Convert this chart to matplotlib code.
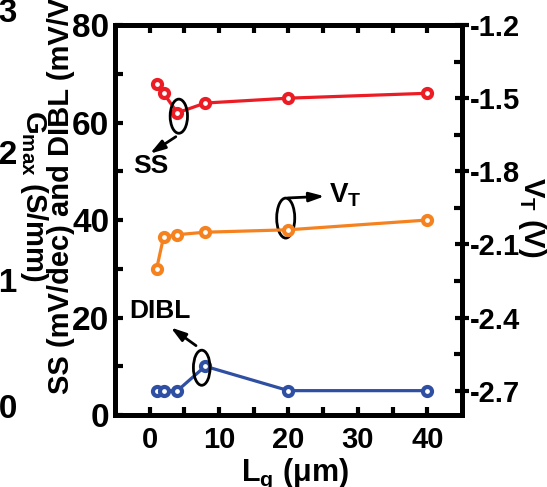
import matplotlib
matplotlib.use('Agg')
import matplotlib.pyplot as plt
from matplotlib import font_manager
from matplotlib.patches import Ellipse

# data
lg = [1, 2, 4, 8, 20, 40]                       # gate length (um)
ss = [68, 66, 62, 64, 65, 66]                   # SS (mV/dec)
dibl = [5, 5, 5, 10, 5, 5]                      # DIBL (mV/V)
vt = [-2.20, -2.07, -2.06, -2.05, -2.04, -2.00]  # V_T (V)

xticks = [0, 10, 20, 30, 40]
yticks_left = [0, 20, 40, 60, 80]
yticks_right = [-2.7, -2.4, -2.1, -1.8, -1.5, -1.2]
yticklabels_right = ['-2.7', '-2.4', '-2.1', '-1.8', '-1.5', '-1.2']
cut_labels = ['1.3', '1.2', '1.1', '1.0']   # tick labels of a neighbour panel, cut off

names = {f.name for f in font_manager.fontManager.ttflist}
fam = ['Liberation Sans Narrow'] if 'Liberation Sans Narrow' in names else []
plt.rcParams['font.family'] = fam + ['Liberation Sans', 'DejaVu Sans']
plt.rcParams['font.weight'] = 'bold'
plt.rcParams['mathtext.fontset'] = 'custom'
plt.rcParams['mathtext.rm'] = (fam + ['Liberation Sans'])[0] + ':bold'
plt.rcParams['mathtext.it'] = (fam + ['Liberation Sans'])[0] + ':bold'
plt.rcParams['mathtext.default'] = 'rm'

red = '#ec1c24'
orange = '#f5821f'
blue = '#2f4fa2'

fig = plt.figure(figsize=(5.47, 4.87), dpi=100)
ax = fig.add_axes([0.2102, 0.1478, 0.6344, 0.8008])
ax2 = ax.twinx()

mk = dict(marker='o', markersize=6.5, markeredgewidth=3, markerfacecolor='white', lw=2.3)
ax.plot(lg, ss, color=red, markeredgecolor=red, **mk)
ax.plot(lg, dibl, color=blue, markeredgecolor=blue, **mk)
ax2.plot(lg, vt, color=orange, markeredgecolor=orange, **mk)

ax.set_xlim(-5, 45)
ax.set_ylim(0, 80)
ax2.set_ylim(-2.8, -1.2)

ax.set_xticks(xticks)
ax.set_xticks([5, 15, 25, 35], minor=True)
ax.set_yticks(yticks_left)
ax.set_yticks([10, 30, 50, 70], minor=True)
ax2.set_yticks(yticks_right)
ax2.set_yticklabels(yticklabels_right)
ax2.set_yticks([-2.55, -2.25, -1.95, -1.65, -1.35], minor=True)

for a in (ax, ax2):
    for s in a.spines.values():
        s.set_linewidth(3.5)
ax.tick_params(axis='x', which='both', direction='in', top=True, length=6, width=3, labelsize=21, pad=8)
ax.tick_params(axis='y', which='both', direction='in', length=6, width=3, labelsize=24, pad=4)
ax2.tick_params(axis='y', which='major', direction='inout', length=10, width=3, labelsize=21, pad=1)
ax2.tick_params(axis='y', which='minor', direction='in', length=6, width=3)

# ellipses and arrows (left-axis data coords)
ew = dict(fill=False, edgecolor='black', lw=2, zorder=5)
ax.add_patch(Ellipse((4.2, 61.3), 2.5, 7.0, **ew))
ax.add_patch(Ellipse((19.6, 40.4), 2.6, 8.2, **ew))
ax.add_patch(Ellipse((7.5, 9.7), 2.4, 7.2, **ew))

arr = dict(arrowstyle='-|>,head_length=0.9,head_width=0.28', color='black', lw=2)
ax.annotate('', xy=(-0.3, 53.3), xytext=(4.1, 57.4), arrowprops=arr, zorder=6)
ax.annotate('', xy=(25.6, 44.9), xytext=(19.5, 44.5), arrowprops=arr, zorder=6)
ax.annotate('', xy=(2.7, 18.3), xytext=(7.0, 13.9), arrowprops=arr, zorder=6)
ax.text(0.1, 49.6, 'SS', fontsize=19, ha='center', va='baseline')
ax.text(1.5, 19.9, 'DIBL', fontsize=19, ha='center', va='baseline')
ax.text(25.9, 43.5, 'V$_T$', fontsize=20, ha='left', va='baseline')

# axis labels
fig.text(295 / 547, 1 - 457 / 487, 'L$_g$ ($\\mu$m)', fontsize=22, ha='center', va='top')
fig.text(61 / 547, 1 - 394 / 487, 'SS (mV/dec) and DIBL (mV/V)', fontsize=21,
         rotation=90, ha='center', va='bottom')
fig.text(532 / 547, 1 - 177 / 487, 'V$_T$ (V)', fontsize=21, rotation=270, ha='center', va='top')

# leftovers from the neighbouring panel
fig.text(34 / 547, 1 - 110 / 487, 'G$_{max}$ (S/mm)', fontsize=21, rotation=270, ha='center', va='top')
for lab, yp in zip(cut_labels, [13, 155, 284, 410]):
    fig.text(18 / 547, 1 - yp / 487, lab, fontsize=24, ha='right', va='center')

fig.savefig('out.png', dpi=100)
